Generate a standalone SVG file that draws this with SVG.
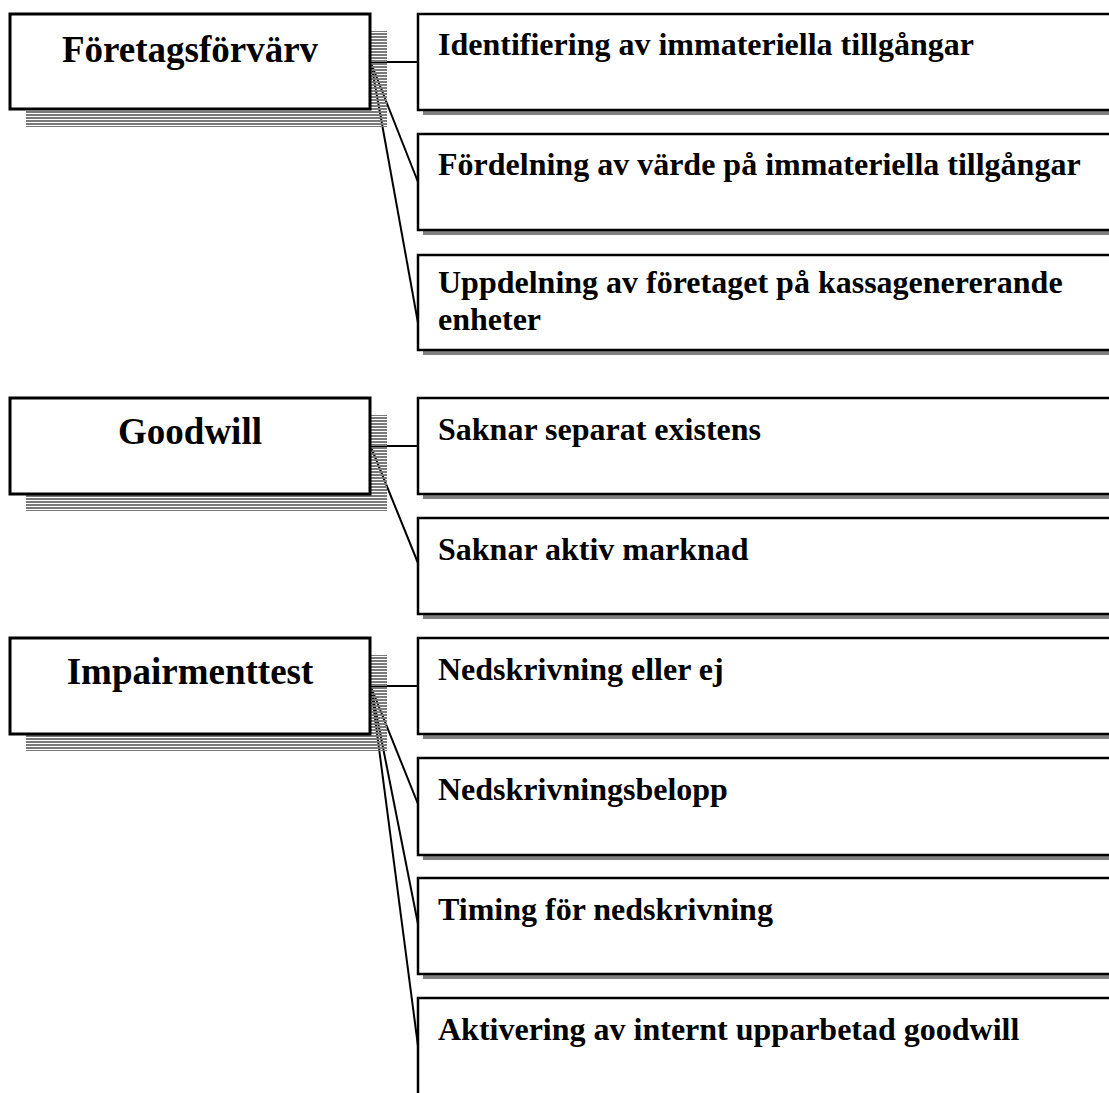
<svg xmlns="http://www.w3.org/2000/svg" width="1109" height="1093" viewBox="0 0 1109 1093">
<defs>
<pattern id="stripes" x="0" y="0" width="4" height="3" patternUnits="userSpaceOnUse">
<rect x="0" y="0" width="4" height="2" fill="#7a7a7a" shape-rendering="crispEdges"/>
</pattern>
</defs>
<style>
.bg{fill:#ffffff}
.lshadow{fill:url(#stripes)}
.lbox{fill:#ffffff;stroke:#000;stroke-width:3}
.rshadow{fill:#808080}
.rbox{fill:#ffffff;stroke:#000;stroke-width:2.5}
.title{font-family:"Liberation Serif","Times New Roman",serif;font-weight:bold;font-size:37px;fill:#000;text-anchor:middle}
.label{font-family:"Liberation Serif","Times New Roman",serif;font-weight:bold;font-size:32px;fill:#000}
.conn line{stroke:#000;stroke-width:2;fill:none}
</style>
<rect class="bg" x="0" y="0" width="1109" height="1093"/>

<g id="connectors" class="conn">
<line x1="371" y1="62" x2="418" y2="62"/>
<line x1="371" y1="63" x2="418" y2="182"/>
<line x1="371" y1="63" x2="418" y2="323"/>
<line x1="371" y1="446" x2="418" y2="446"/>
<line x1="371" y1="447" x2="418" y2="563"/>
<line x1="371" y1="686" x2="418" y2="686"/>
<line x1="371" y1="687" x2="418" y2="804"/>
<line x1="371" y1="687" x2="418" y2="924"/>
<line x1="371" y1="687" x2="418" y2="1046"/>
</g>

<g id="n-foretagsforvarv">
<rect class="lshadow" x="26" y="31" width="361" height="96"/>
<rect class="lbox" x="10" y="14" width="360" height="95"/>
<text class="title" x="190" y="62">Företagsförvärv</text>
</g>
<g id="n-goodwill">
<rect class="lshadow" x="26" y="415" width="361" height="96"/>
<rect class="lbox" x="10" y="398" width="360" height="96"/>
<text class="title" x="190" y="444">Goodwill</text>
</g>
<g id="n-impairmenttest">
<rect class="lshadow" x="26" y="655" width="361" height="96"/>
<rect class="lbox" x="10" y="638" width="360" height="96"/>
<text class="title" x="190" y="684">Impairmenttest</text>
</g>

<g id="n-identifiering">
<rect class="rshadow" x="423" y="111" width="700" height="4"/>
<rect class="rbox" x="418" y="14" width="700" height="96"/>
<text class="label" x="438" y="55">Identifiering av immateriella tillgångar</text>
</g>
<g id="n-fordelning">
<rect class="rshadow" x="423" y="231" width="700" height="4"/>
<rect class="rbox" x="418" y="134" width="700" height="96"/>
<text class="label" x="438" y="175">Fördelning av värde på immateriella tillgångar</text>
</g>
<g id="n-uppdelning">
<rect class="rshadow" x="423" y="351" width="700" height="4"/>
<rect class="rbox" x="418" y="255" width="700" height="95"/>
<text class="label" x="438" y="293">Uppdelning av företaget på kassagenererande</text>
<text class="label" x="438" y="330">enheter</text>
</g>
<g id="n-separat">
<rect class="rshadow" x="423" y="495" width="700" height="4"/>
<rect class="rbox" x="418" y="398" width="700" height="96"/>
<text class="label" x="438" y="440">Saknar separat existens</text>
</g>
<g id="n-aktiv">
<rect class="rshadow" x="423" y="615" width="700" height="4"/>
<rect class="rbox" x="418" y="518" width="700" height="96"/>
<text class="label" x="438" y="560">Saknar aktiv marknad</text>
</g>
<g id="n-nedskrivning">
<rect class="rshadow" x="423" y="735" width="700" height="4"/>
<rect class="rbox" x="418" y="638" width="700" height="96"/>
<text class="label" x="438" y="680">Nedskrivning eller ej</text>
</g>
<g id="n-belopp">
<rect class="rshadow" x="423" y="856" width="700" height="4"/>
<rect class="rbox" x="418" y="758" width="700" height="97"/>
<text class="label" x="438" y="800">Nedskrivningsbelopp</text>
</g>
<g id="n-timing">
<rect class="rshadow" x="423" y="975" width="700" height="4"/>
<rect class="rbox" x="418" y="878" width="700" height="96"/>
<text class="label" x="438" y="920">Timing för nedskrivning</text>
</g>
<g id="n-aktivering">
<rect class="rbox" x="418" y="998" width="700" height="110"/>
<text class="label" x="438" y="1040">Aktivering av internt upparbetad goodwill</text>
</g>
</svg>
